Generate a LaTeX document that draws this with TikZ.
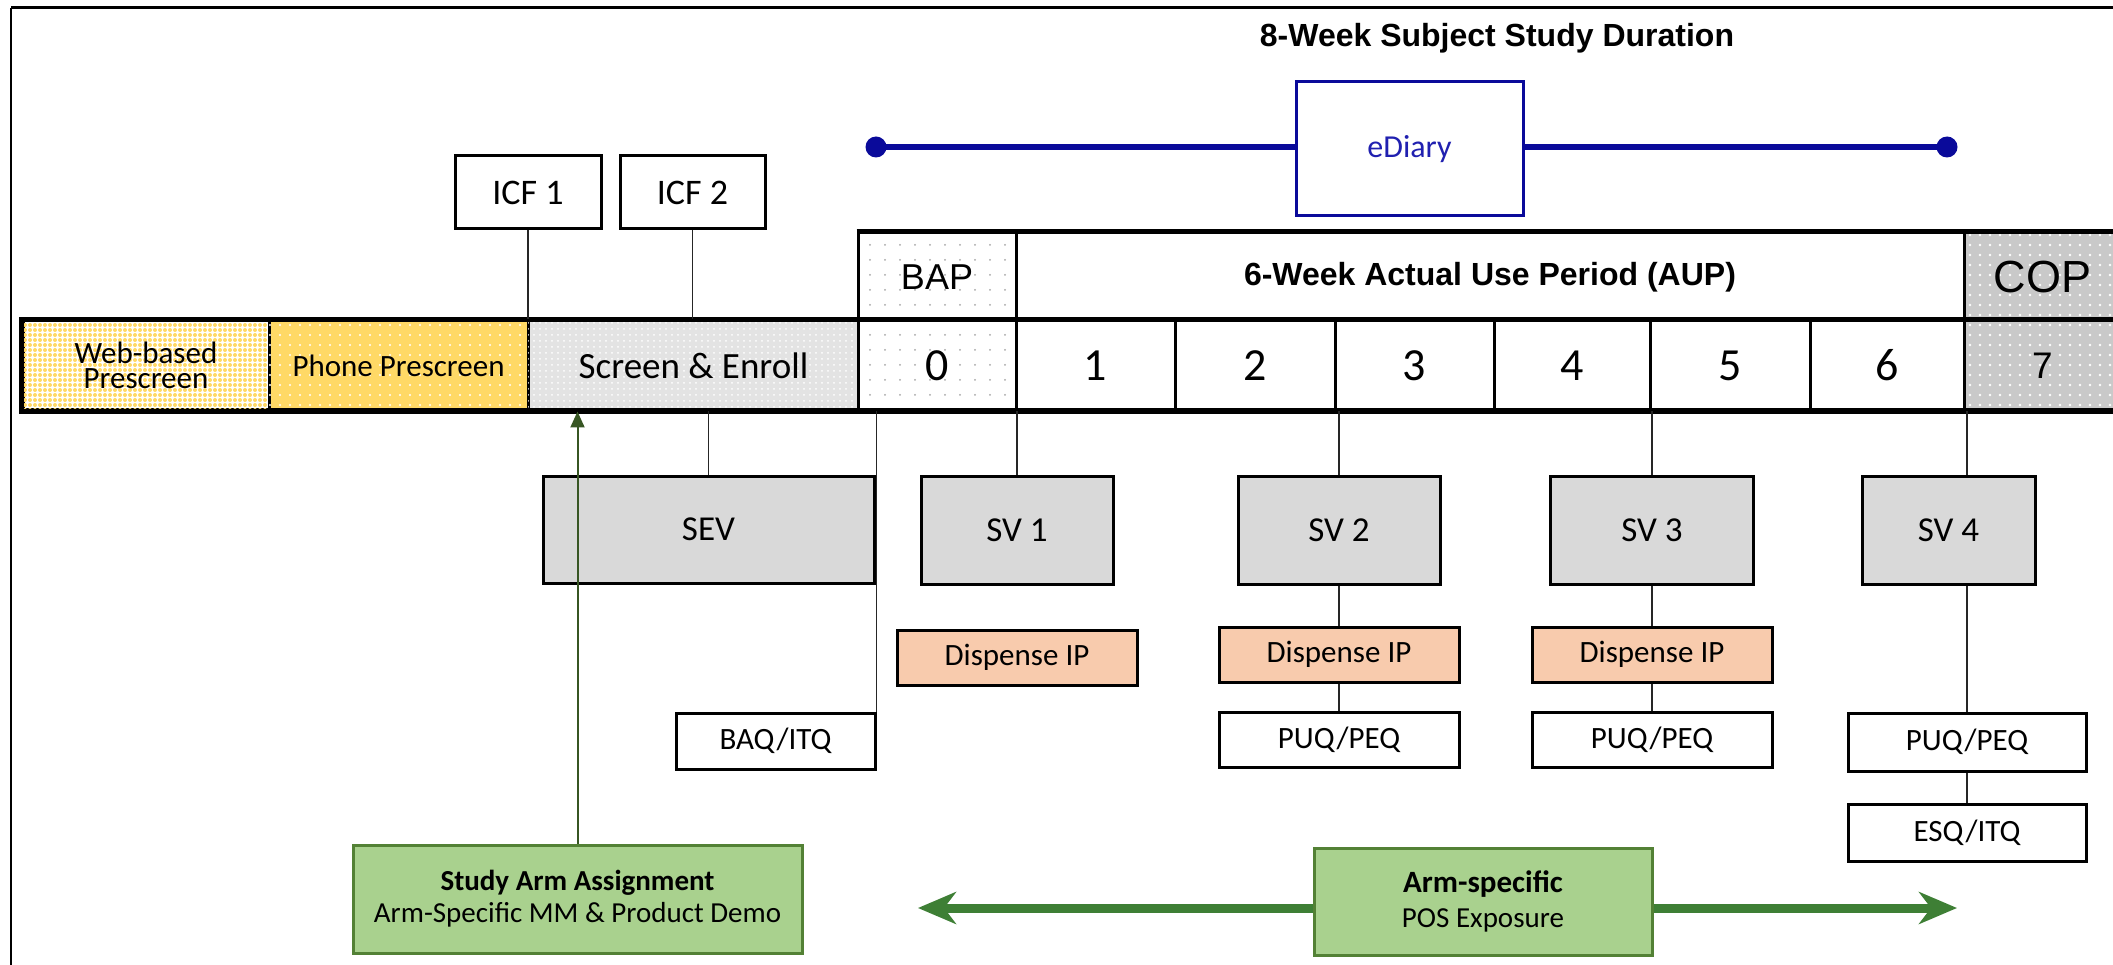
\documentclass[tikz,border=0pt]{standalone}
\usepackage{fontspec}
\setmainfont{Carlito}
\newfontfamily\arialfont{Liberation Sans}
\usetikzlibrary{arrows.meta,patterns.meta}

\definecolor{goldfill}{HTML}{FFD966}
\definecolor{greyfill}{HTML}{D9D9D9}
\definecolor{peach}{HTML}{F8CBAD}
\definecolor{leaf}{HTML}{A9D18E}
\definecolor{leafline}{HTML}{538135}
\definecolor{arrowgreen}{HTML}{3E7F35}
\definecolor{darkgreen}{HTML}{375623}
\definecolor{navy}{HTML}{0A0A9A}
\definecolor{navytext}{HTML}{2020B0}

\newcommand\fsz[2]{\fontsize{#1}{#2}\selectfont}

\tikzset{
  cell/.style={draw=black, line width=3pt, inner sep=0pt, align=center},
  visit/.style={cell, fill=greyfill, minimum height=108pt, font=\fsz{35}{40}},
  small/.style={cell, fill=white, minimum width=240pt, minimum height=55pt, font=\fsz{31}{36}},
  dispense/.style={small, fill=peach},
  week/.style={cell, fill=white, minimum height=89pt, font=\fsz{46}{50}},
  arm/.style={draw=leafline, line width=3pt, fill=leaf, inner sep=0pt, align=center, font=\fsz{29}{32}},
  conn/.style={draw=black!85, line width=1.4pt},
  thinarrow/.style={draw=darkgreen, line width=2pt, -{Triangle[length=16pt,width=14pt]}},
  bigarrow/.style={draw=arrowgreen, line width=9pt, -{Stealth[length=38pt,width=32pt,inset=12pt]}},
  navyline/.style={draw=navy, line width=6.5pt},
  dotsover/.style 2 args={postaction={pattern={Dots[radius=#1, distance=#2]}}},
}

\begin{document}
\begin{tikzpicture}[x=1pt,y=-1pt]
\useasboundingbox (0,0) rectangle (2113,965);
\clip (0,0) rectangle (2113,965);
\fill[white] (0,0) rectangle (2113,965);

% frame
\draw[line width=3pt] (11,8) -- (2200,8);
\draw[line width=2pt] (11,8) -- (11,1000);

% title
\node[font=\arialfont\bfseries\fsz{32}{36}] (title) at (1497,38) {8-Week Subject Study Duration};

% eDiary bar
\node[draw=navy, line width=3pt, fill=white, minimum width=227pt, minimum height=134pt,
      inner sep=0pt, text=navytext, font=\fsz{32}{36}] (ediary) at (1409.5,149) {eDiary};
\coordinate (dl) at (876,147);
\coordinate (dr) at (1947,147);
\draw[navyline] (dl) -- (dl -| ediary.west);
\draw[navyline] (dr -| ediary.east) -- (dr);
\fill[navy] (dl) circle[radius=10.5pt];
\fill[navy] (dr) circle[radius=10.5pt];

% consent forms
\node[cell, fill=white, minimum width=146pt, minimum height=73pt, font=\fsz{36}{40}] (icf1) at (528,192.5) {ICF 1};
\node[cell, fill=white, minimum width=145pt, minimum height=73pt, font=\fsz{36}{40}] (icf2) at (692.5,192.5) {ICF 2};

% header row
\node[cell, fill=white, pattern color=black!35, dotsover={1pt}{15pt}, minimum width=158pt, minimum height=88pt,
      font=\arialfont\fsz{36}{40}] (bap) at (937,277) {BAP};
\node[cell, fill=white, minimum width=948pt, minimum height=88pt,
      font=\arialfont\bfseries\fsz{32}{36}] (aup) at (1490,277) {6-Week Actual Use Period (AUP)};
\node[cell, fill=black!21, pattern color=white, dotsover={1.3pt}{10pt}, minimum width=157pt, minimum height=88pt,
      font=\arialfont\fsz{45}{50}] (cop) at (2042.5,277) {COP};

% prescreen / screening row
\node[cell, fill=white, pattern color=goldfill, dotsover={2pt}{5pt}, minimum width=246pt, minimum height=89pt,
      font=\fsz{31}{25}] (web) at (146,365.5) {Web-based\\Prescreen};
\node[cell, fill=goldfill, pattern color=white, dotsover={1.1pt}{10pt}, minimum width=259pt, minimum height=89pt,
      font=\fsz{31}{36}] (phone) at (398.5,365.5) {Phone Prescreen};
\node[cell, fill=black!11, pattern color=white, dotsover={1pt}{6pt}, minimum width=331pt, minimum height=89pt,
      font=\fsz{37}{42}] (screen) at (693.5,365.5) {Screen \& Enroll};

% week row
\node[week, pattern color=black!35, dotsover={1pt}{15pt}, minimum width=158pt] (d0) at (937,365.5) {0};
\node[week, minimum width=159pt] (w1) at (1095.5,365.5) {1};
\node[week, minimum width=160pt] (w2) at (1255,365.5) {2};
\node[week, minimum width=159pt] (w3) at (1414.5,365.5) {3};
\node[week, minimum width=156pt] (w4) at (1572,365.5) {4};
\node[week, minimum width=160pt] (w5) at (1730,365.5) {5};
\node[week, minimum width=154pt] (w6) at (1887,365.5) {6};
\node[week, fill=black!21, pattern color=white, dotsover={1.3pt}{10pt}, minimum width=157pt,
      font=\arialfont\fsz{37}{40}] (w7) at (2042.5,365.5) {7};

% heavy outline of the timeline
\draw[line width=4.5pt] (web.north west) rectangle (w7.south east);
\draw[line width=4.5pt] (bap.north west) -- (cop.north east);

% visits
\node[visit, minimum width=331pt, minimum height=107pt] (sev) at (708.5,529.5) {SEV};
\node[visit, minimum width=192pt] (sv1) at (1017,530) {SV 1};
\node[visit, minimum width=202pt] (sv2) at (1339,530) {SV 2};
\node[visit, minimum width=203pt] (sv3) at (1652,530) {SV 3};
\node[visit, minimum width=173pt] (sv4) at (1948.5,530) {SV 4};

% dispensing and questionnaires
\node[dispense] (disp1) at (1017,657.5) {Dispense IP};
\node[dispense] (disp2) at (1339,654.5) {Dispense IP};
\node[dispense] (disp3) at (1652,654.5) {Dispense IP};
\node[small, minimum width=199pt, minimum height=56pt] (baq) at (775.5,741) {BAQ/ITQ};
\node[small] (puq2) at (1339,739.5) {PUQ/PEQ};
\node[small] (puq3) at (1652,739.5) {PUQ/PEQ};
\node[small, minimum width=238pt, minimum height=58pt] (puq4) at (1967,742) {PUQ/PEQ};
\node[small, minimum width=238pt, minimum height=57pt] (esq) at (1967,832.5) {ESQ/ITQ};

% arm boxes
\node[arm, minimum width=449pt, minimum height=108pt] (assign) at (577.5,899)
  {\textbf{Study Arm Assignment}\\Arm-Specific MM \& Product Demo};
\node[arm, minimum width=338pt, minimum height=107pt, font=\fsz{29}{35}] (pos) at (1483,901.5)
  {{\fsz{31}{35}\textbf{Arm-specific}}\\POS Exposure};

% connectors
\draw[conn] (icf1.south) -- (icf1.south |- web.north);
\draw[conn] (icf2.south) -- (icf2.south |- screen.north);
\draw[conn] (screen.south -| sev.north) -- (sev.north);
\draw[conn] (d0.south -| baq.north east) -- (baq.north east);
\draw[conn] (w1.south -| sv1.north) -- (sv1.north);
\draw[conn] (w3.south -| sv2.north) -- (sv2.north);
\draw[conn] (sv2.south) -- (disp2.north);
\draw[conn] (disp2.south) -- (puq2.north);
\draw[conn] (w5.south -| sv3.north) -- (sv3.north);
\draw[conn] (sv3.south) -- (disp3.north);
\draw[conn] (disp3.south) -- (puq3.north);
\draw[conn] (w7.south -| puq4.north) -- (sv4.north -| puq4.north);
\draw[conn] (sv4.south -| puq4.north) -- (puq4.north);
\draw[conn] (puq4.south) -- (esq.north);

% arm arrows
\draw[thinarrow] (assign.north) -- (assign.north |- screen.south);
\coordinate (ltip) at (918,908);
\coordinate (rtip) at (1957,908);
\draw[bigarrow] (ltip -| pos.west) -- (ltip);
\draw[bigarrow] (rtip -| pos.east) -- (rtip);
\end{tikzpicture}
\end{document}
